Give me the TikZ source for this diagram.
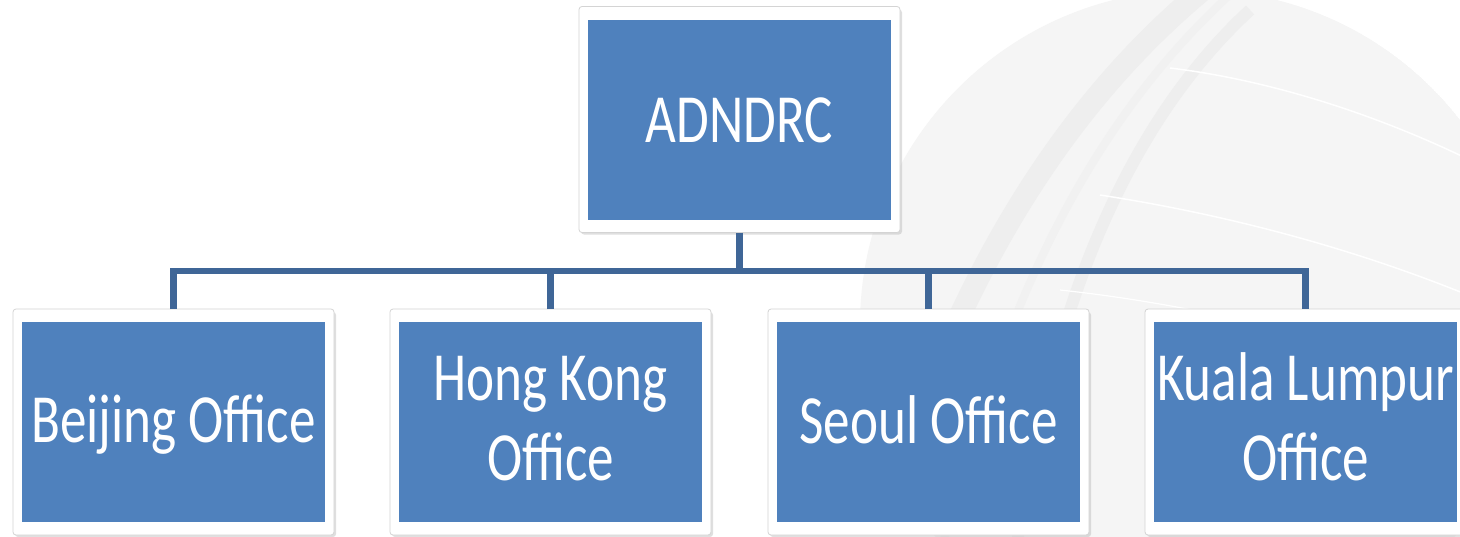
\documentclass[tikz,border=0pt]{standalone}
\usepackage{fontspec}
\newfontfamily\calib[FakeStretch=0.77]{Carlito}
\definecolor{boxblue}{HTML}{4F81BD}
\definecolor{connblue}{HTML}{3F6697}
\definecolor{globefill}{HTML}{F5F5F5}
\definecolor{globeband}{HTML}{EEEEEE}
\begin{document}
\begin{tikzpicture}[x=1pt,y=-1pt,
  frame/.style={draw=black!17, line width=0.8pt, fill=white, rounded corners=3pt,
    minimum width=321pt, minimum height=226pt, inner sep=0pt, outer sep=0pt},
  shadowbox/.style={fill=black!35, opacity=0.35, rounded corners=3pt},
  inner/.style={fill=boxblue},
  lbl/.style={text=white, font=\calib\fontsize{69}{80}\selectfont, align=center, inner sep=0pt, anchor=base},
  conn/.style={draw=connblue, line width=6.5pt, line join=miter}
]
\useasboundingbox (0,0) rectangle (1460,536);
\fill[white] (0,0) rectangle (1460,536);
% faint globe in the background
\begin{scope}
  \clip (1195,325) circle[radius=335];
  \fill[globefill] (1195,325) circle[radius=335];
  \draw[globeband, line width=22pt] (860,600) .. controls (930,330) and (1040,120) .. (1215,-20);
  \draw[globeband, line width=12pt] (1010,600) .. controls (1040,330) and (1120,130) .. (1250,10);
  \draw[globeband!60!globefill, line width=8pt] (930,600) .. controls (990,330) and (1080,130) .. (1235,-10);
  \draw[white, line width=1.5pt] (1170,68) .. controls (1270,80) and (1380,115) .. (1480,165);
  \draw[white, line width=1.5pt] (1100,195) .. controls (1230,215) and (1360,250) .. (1480,300);
  \draw[white, line width=1.2pt] (1060,290) .. controls (1200,305) and (1340,340) .. (1480,390);
\end{scope}
% shadows
\foreach \cx/\cy in {739.5/119.5,173.5/422,550.5/422,928.5/422,1305.5/422}{
  \fill[shadowbox] (\cx-158.5,\cy-110) rectangle (\cx+162.5,\cy+115);
}
% boxes
\node[frame] (top) at (739.5,119.5) {};
\node[frame] (b1) at (173.5,422) {};
\node[frame] (b2) at (550.5,422) {};
\node[frame] (b3) at (928.5,422) {};
\node[frame] (b4) at (1305.5,422) {};
\foreach \n in {top,b1,b2,b3,b4}{
  \fill[inner] ([shift={(9,13)}]\n.north west) rectangle ([shift={(-9,-13)}]\n.south east);
}
% labels
\node[lbl] (ltop) at (739.5,142) {ADNDRC};
\node[lbl] (l1) at (173.5,442) {Beijing Office};
\node[lbl] (l2) at (550.5,480) {Hong Kong\\Office};
\node[lbl] (l3) at (928.5,443) {Seoul Office};
\node[lbl] (l4) at (1305.5,480) {Kuala Lumpur\\Office};
% connectors
\coordinate (bus) at (739.5,271);
\draw[conn] (top.south) -- (top.south |- bus);
\draw[conn] (b1.north) -- (b1.north |- bus) -- (b4.north |- bus) -- (b4.north);
\draw[conn] (b2.north) -- (b2.north |- bus);
\draw[conn] (b3.north) -- (b3.north |- bus);
\end{tikzpicture}
\end{document}
